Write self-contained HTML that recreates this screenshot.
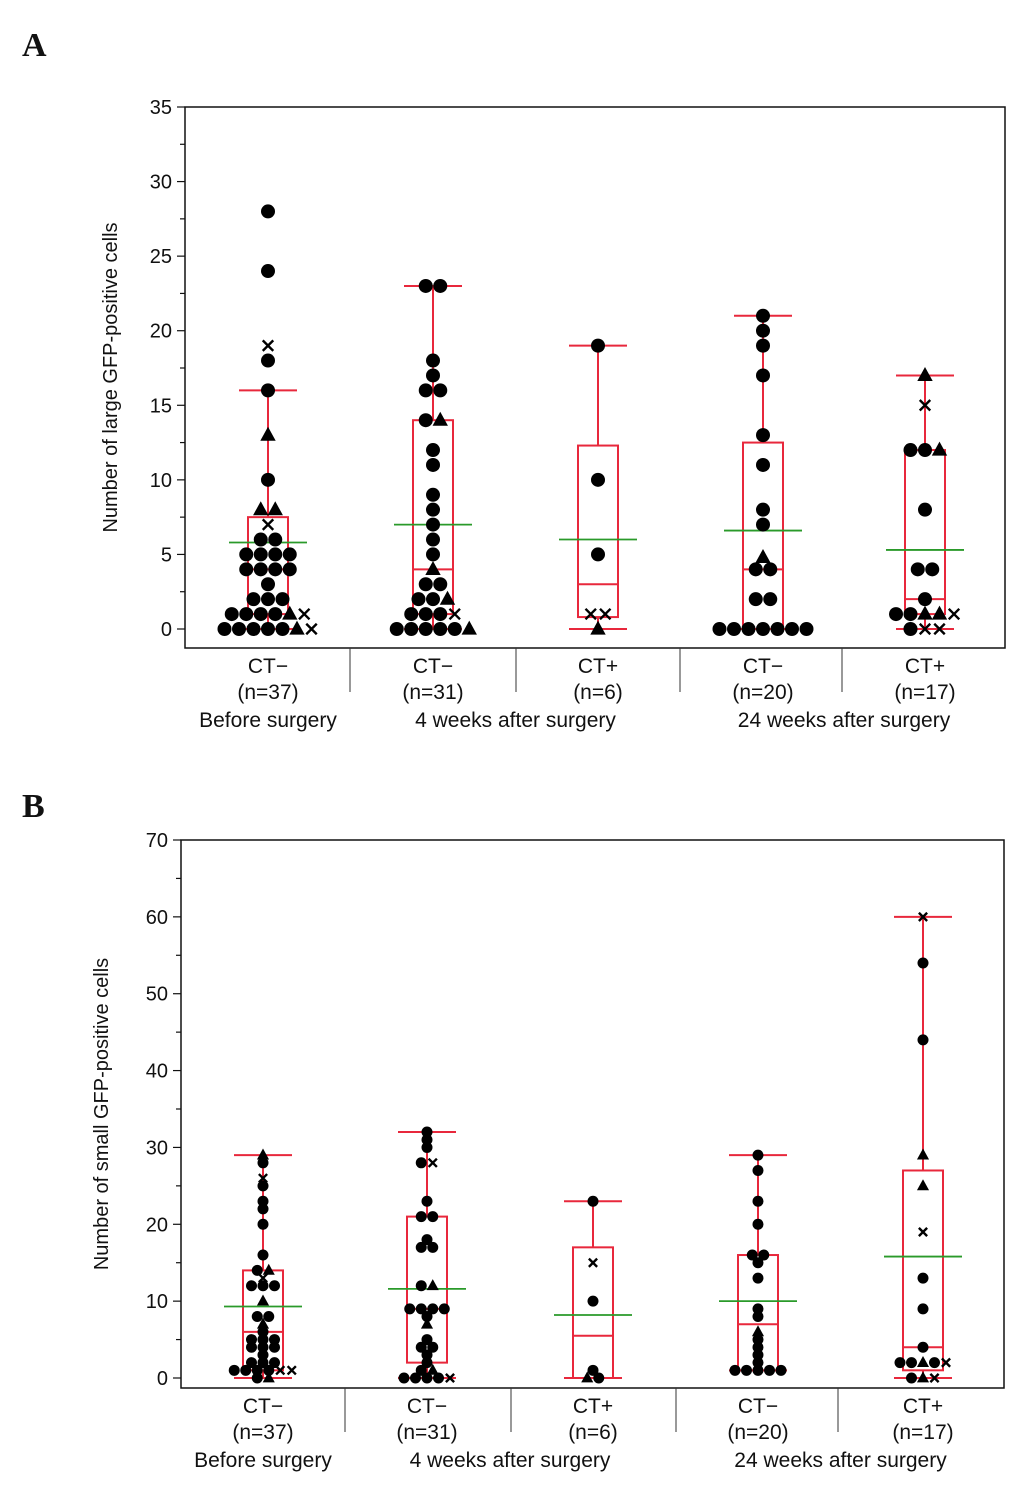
<!DOCTYPE html>
<html><head><meta charset="utf-8"><style>
body{margin:0;background:#fff;width:1033px;height:1489px;overflow:hidden}
svg{display:block}
text{font-family:"Liberation Sans",sans-serif;fill:#111}
</style></head><body>
<svg id="s" width="1033" height="1489">
<text x="22" y="56" style="font-family:'Liberation Serif',serif;font-weight:bold;font-size:34px">A</text>
<text x="22" y="817" style="font-family:'Liberation Serif',serif;font-weight:bold;font-size:34px">B</text>
</svg>
<script>
const categoriesTop=["CT−","CT−","CT+","CT−","CT+"];
const categoriesN=["(n=37)","(n=31)","(n=6)","(n=20)","(n=17)"];
const periods=["Before surgery","4 weeks after surgery","24 weeks after surgery"];
// Panel A values and shapes (o dot, t triangle, x cross)
const aVals=[
[28,24,19,18,16,13,10,8,8,7,6,6,5,5,5,5,4,4,4,4,3,2,2,2,1,1,1,1,1,1,0,0,0,0,0,0,0],
[23,23,18,17,16,16,14,14,12,11,9,8,7,6,5,4,3,3,2,2,2,1,1,1,1,0,0,0,0,0,0],
[19,10,5,1,1,0],
[21,20,19,17,13,11,8,7,4.8,4,4,2,2,0,0,0,0,0,0,0],
[17,15,12,12,12,8,4,4,2,1,1,1,1,1,0,0,0]];
const aShapes=[
"ooxootottx"+"oo"+"oooo"+"oooo"+"o"+"ooo"+"ooootx"+"oooootx",
"ooooooot"+"ooooooo"+"t"+"oo"+"oot"+"ooox"+"oooootx",
"oooxxt",
"oooooooo"+"t"+"oo"+"oo"+"ooooooo",
"tx"+"oot"+"o"+"oo"+"o"+"oottx"+"oxx"];
const aStats=[[0,1,4,7.5,16,5.8],[0,1,4,14,23,7],[0,0.8,3,12.3,19,6],[0,0,4,12.5,21,6.6],[0,1,2,12,17,5.3]];
// Panel B
const bVals=[
[29,28,26,25,23,22,20,16,14,14,13,12,12,12,10,8,8,7,6,5,5,5,4,4,4,3,2,2,2,1,1,1,1,1,1,0,0],
[32,31,30,28,28,23,21,21,18,17,17,12,12,9,9,9,9,8,7,5,4,4,3,2,1,1,0,0,0,0,0],
[23,15,10,1,0,0],
[29,27,23,20,16,16,15,13,9,8,6,5,4,3,2,1,1,1,1,1],
[60,54,44,29,25,19,13,9,4,2,2,2,2,2,0,0,0]];
const bShapes=[
"toxooooootx"+"ooot"+"oot"+"o"+"ooo"+"ooo"+"o"+"ooo"+"ooooxx"+"ot",
"oooox"+"o"+"oo"+"ooo"+"ot"+"oooo"+"ot"+"ooo"+"o"+"o"+"ot"+"oooox",
"oxooto",
"oooooooooo"+"t"+"oooo"+"ooooo",
"xoottxooo"+"ootox"+"otx"];
const bStats=[[0,1,6,14,29,9.3],[0,2,9,21,32,11.6],[0,0,5.5,17,23,8.2],[1,1,7,16,29,10],[0,1,4,27,60,15.8]];

const NS="http://www.w3.org/2000/svg";
const svg=document.getElementById('s');
function el(tag,attrs,parent,txt){const e=document.createElementNS(NS,tag);for(const k in attrs)e.setAttribute(k,attrs[k]);if(txt!==undefined)e.textContent=txt;(parent||svg).appendChild(e);return e;}

function panel(cfg){
  const {x0,x1,yTop,yBot,y0px,max,step,centers,seps,vals,shapes,stats,r,sp,ytitle,ytx,labY,name}=cfg;
  const g=el('g',{});
  
  
  const ys=v=>y0px-(v/max)*(y0px-yTop);
  const fr=el('rect',{x:x0,y:yTop,width:x1-x0,height:yBot-yTop,fill:'none',stroke:'#111','stroke-width':1.5},g);
  
  
  for(let v=0;v<=max;v+=step/2){
    const major=(v%step)===0;
    el('line',{x1:x0-(major?8:5),x2:x0,y1:ys(v),y2:ys(v),stroke:'#111','stroke-width':1.2},g);
    if(major){const t=el('text',{x:x0-13,y:ys(v)+7,'text-anchor':'end','font-size':20},g,String(v));
      
      }
  }
  const yt=el('text',{transform:`translate(${ytx},${(yTop+yBot)/2}) rotate(-90)`,'text-anchor':'middle','font-size':20},g,ytitle);
  
  
  seps.forEach(sx=>{const l=el('line',{x1:sx,x2:sx,y1:yBot,y2:yBot+44,stroke:'#333','stroke-width':1},g);
    
    });
  centers.forEach((cx,i)=>{
    const a=el('text',{x:cx,y:labY,'text-anchor':'middle','font-size':21},g,categoriesTop[i]);
    
    
    const b=el('text',{x:cx,y:labY+26,'text-anchor':'middle','font-size':21},g,categoriesN[i]);
    
    
  });
  const perX=[centers[0],(centers[1]+centers[2])/2,(centers[3]+centers[4])/2];
  periods.forEach((p,i)=>{const t=el('text',{x:perX[i],y:labY+54,'text-anchor':'middle','font-size':21},g,p);
    
    });
  centers.forEach((cx,i)=>{
    const [lo,q1,med,q3,hi,mean]=stats[i];
    const bw=20, cw=29;
    const red='#e8283c';
    const bx=el('g',{},g);
    
    
    el('line',{x1:cx,x2:cx,y1:ys(hi),y2:ys(q3),stroke:red,'stroke-width':2},bx);
    el('line',{x1:cx,x2:cx,y1:ys(q1),y2:ys(lo),stroke:red,'stroke-width':2},bx);
    el('line',{x1:cx-cw,x2:cx+cw,y1:ys(hi),y2:ys(hi),stroke:red,'stroke-width':2},bx);
    el('line',{x1:cx-cw,x2:cx+cw,y1:ys(lo),y2:ys(lo),stroke:red,'stroke-width':2},bx);
    el('rect',{x:cx-bw,y:ys(q3),width:2*bw,height:ys(q1)-ys(q3),fill:'none',stroke:red,'stroke-width':2},bx);
    el('line',{x1:cx-bw,x2:cx+bw,y1:ys(med),y2:ys(med),stroke:red,'stroke-width':2},bx);
    const mn=el('line',{x1:cx-39,x2:cx+39,y1:ys(mean),y2:ys(mean),stroke:'#2a9a2a','stroke-width':1.8},g);
    
    
    const v=vals[i], sh=shapes[i];
    const groups={};
    v.forEach((val,j)=>{(groups[val]=groups[val]||[]).push(j);});
    Object.keys(groups).forEach(k=>{
      const idx=groups[k];
      idx.forEach((j,m)=>{
        const px=cx+(m-(idx.length-1)/2)*sp, py=ys(v[j]);
        const s=sh[j]||'o';
        let p;
        if(s==='o') p=el('circle',{cx:px,cy:py,r:r,fill:'#000'},g);
        else if(s==='t') p=el('polygon',{points:`${px},${py-r*1.2} ${px-r*1.1},${py+r*0.8} ${px+r*1.1},${py+r*0.8}`,fill:'#000'},g);
        else p=el('path',{d:`M${px-r*0.75},${py-r*0.75}L${px+r*0.75},${py+r*0.75}M${px+r*0.75},${py-r*0.75}L${px-r*0.75},${py+r*0.75}`,stroke:'#000','stroke-width':2.4,fill:'none'},g);
        
        
      });
    });
  });
}
panel({x0:185,x1:1005,yTop:107,yBot:648,y0px:629,max:35,step:5,centers:[268,433,598,763,925],seps:[350,516,680,842],
 vals:aVals,shapes:aShapes,stats:aStats,r:7,sp:14.5,ytitle:"Number of large GFP-positive cells",ytx:117,labY:673,name:'panel-a-chart'});
panel({x0:181,x1:1004,yTop:840,yBot:1388,y0px:1378,max:70,step:10,centers:[263,427,593,758,923],seps:[345,511,676,838],
 vals:bVals,shapes:bShapes,stats:bStats,r:5.5,sp:11.5,ytitle:"Number of small GFP-positive cells",ytx:108,labY:1413,name:'panel-b-chart'});
</script>
</body></html>
